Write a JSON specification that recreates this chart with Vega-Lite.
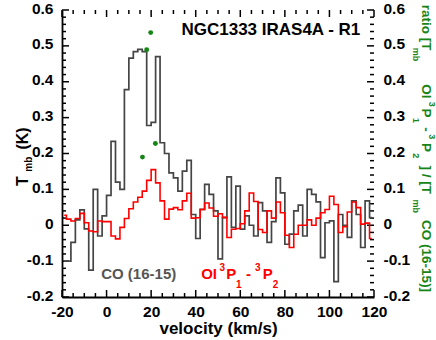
{
  "$schema": "https://vega.github.io/schema/vega-lite/v6.json",
  "width": 312,
  "height": 287,
  "autosize": {"type": "none"},
  "padding": {"left": 62, "top": 10, "right": 62, "bottom": 43},
  "background": "white",
  "config": {
    "view": {"stroke": null},
    "font": "Liberation Sans",
    "axis": {"grid": false, "title": null, "labelFont": "Liberation Sans", "labelFontWeight": "bold", "labelFontSize": 15.5, "labelColor": "black", "domainColor": "black", "domainWidth": 1.8, "labelFlush": false, "labelOverlap": false}
  },
  "datasets": {
    "spec": [
      {"velocity": -19, "co": -0.1, "oi": 0.028},
      {"velocity": -17, "co": -0.1, "oi": 0.017},
      {"velocity": -15, "co": -0.048, "oi": 0.012},
      {"velocity": -13, "co": 0.015, "oi": 0.019},
      {"velocity": -11, "co": 0.043, "oi": 0.033},
      {"velocity": -9, "co": -0.01, "oi": 0.007},
      {"velocity": -7, "co": -0.125, "oi": -0.016},
      {"velocity": -5, "co": 0.1, "oi": -0.018},
      {"velocity": -3, "co": -0.03, "oi": 0.012},
      {"velocity": -1, "co": 0.026, "oi": 0.01},
      {"velocity": 1, "co": 0.083, "oi": 0.01},
      {"velocity": 3, "co": 0.234, "oi": -0.03},
      {"velocity": 5, "co": 0.12, "oi": -0.038},
      {"velocity": 7, "co": 0.1, "oi": -0.006},
      {"velocity": 9, "co": 0.378, "oi": 0.019},
      {"velocity": 11, "co": 0.466, "oi": 0.046},
      {"velocity": 13, "co": 0.484, "oi": 0.065},
      {"velocity": 15, "co": 0.49, "oi": 0.078},
      {"velocity": 17, "co": 0.484, "oi": 0.095},
      {"velocity": 19, "co": 0.278, "oi": 0.125},
      {"velocity": 21, "co": 0.287, "oi": 0.155},
      {"velocity": 23, "co": 0.47, "oi": 0.118},
      {"velocity": 25, "co": 0.23, "oi": 0.068},
      {"velocity": 27, "co": 0.2, "oi": 0.017},
      {"velocity": 29, "co": 0.146, "oi": 0.045},
      {"velocity": 31, "co": 0.132, "oi": 0.049},
      {"velocity": 33, "co": 0.095, "oi": 0.043},
      {"velocity": 35, "co": 0.151, "oi": 0.068},
      {"velocity": 37, "co": 0.181, "oi": 0.089},
      {"velocity": 39, "co": 0.03, "oi": 0.02},
      {"velocity": 41, "co": -0.037, "oi": 0.021},
      {"velocity": 43, "co": 0.044, "oi": 0.044},
      {"velocity": 45, "co": 0.114, "oi": 0.062},
      {"velocity": 47, "co": 0.086, "oi": 0.048},
      {"velocity": 49, "co": 0.04, "oi": 0.025},
      {"velocity": 51, "co": -0.094, "oi": 0.032},
      {"velocity": 53, "co": 0.021, "oi": 0.022},
      {"velocity": 55, "co": 0.135, "oi": -0.034},
      {"velocity": 57, "co": -0.006, "oi": -0.011},
      {"velocity": 59, "co": 0.109, "oi": -0.009},
      {"velocity": 61, "co": -0.011, "oi": 0.004},
      {"velocity": 63, "co": 0.026, "oi": 0.04},
      {"velocity": 65, "co": 0.0, "oi": 0.09},
      {"velocity": 67, "co": -0.03, "oi": 0.066},
      {"velocity": 69, "co": 0.063, "oi": -0.012},
      {"velocity": 71, "co": 0.04, "oi": -0.02},
      {"velocity": 73, "co": -0.048, "oi": 0.04},
      {"velocity": 75, "co": 0.01, "oi": 0.02},
      {"velocity": 77, "co": 0.132, "oi": 0.065},
      {"velocity": 79, "co": 0.09, "oi": 0.035},
      {"velocity": 81, "co": -0.053, "oi": -0.028},
      {"velocity": 83, "co": -0.025, "oi": -0.062},
      {"velocity": 85, "co": 0.04, "oi": -0.025},
      {"velocity": 87, "co": 0.056, "oi": 0.0},
      {"velocity": 89, "co": -0.03, "oi": 0.0},
      {"velocity": 91, "co": 0.1, "oi": 0.015},
      {"velocity": 93, "co": 0.086, "oi": 0.0},
      {"velocity": 95, "co": 0.065, "oi": 0.02},
      {"velocity": 97, "co": -0.09, "oi": 0.035},
      {"velocity": 99, "co": 0.007, "oi": 0.044},
      {"velocity": 101, "co": 0.012, "oi": 0.081},
      {"velocity": 103, "co": -0.157, "oi": 0.058},
      {"velocity": 105, "co": 0.03, "oi": -0.02},
      {"velocity": 107, "co": 0.0, "oi": -0.004},
      {"velocity": 109, "co": -0.034, "oi": 0.037},
      {"velocity": 111, "co": 0.068, "oi": 0.065},
      {"velocity": 113, "co": 0.03, "oi": 0.049},
      {"velocity": 115, "co": -0.062, "oi": 0.003},
      {"velocity": 117, "co": 0.068, "oi": 0.006},
      {"velocity": 119, "co": 0.021, "oi": -0.037}
    ],
    "ratio": [
      {"velocity": 16.1, "ratio": 0.19},
      {"velocity": 18.0, "ratio": 0.489},
      {"velocity": 19.8, "ratio": 0.537},
      {"velocity": 21.9, "ratio": 0.228}
    ],
    "xmajor": [{"v": -20}, {"v": 0}, {"v": 20}, {"v": 40}, {"v": 60}, {"v": 80}, {"v": 100}, {"v": 120}],
    "xminor": [{"v": -15}, {"v": -10}, {"v": -5}, {"v": 5}, {"v": 10}, {"v": 15}, {"v": 25}, {"v": 30}, {"v": 35}, {"v": 45}, {"v": 50}, {"v": 55}, {"v": 65}, {"v": 70}, {"v": 75}, {"v": 85}, {"v": 90}, {"v": 95}, {"v": 105}, {"v": 110}, {"v": 115}],
    "ymajor": [{"t": -0.2}, {"t": -0.1}, {"t": 0}, {"t": 0.1}, {"t": 0.2}, {"t": 0.3}, {"t": 0.4}, {"t": 0.5}, {"t": 0.6}],
    "yminor": [{"t": -0.18}, {"t": -0.16}, {"t": -0.14}, {"t": -0.12}, {"t": -0.08}, {"t": -0.06}, {"t": -0.04}, {"t": -0.02}, {"t": 0.02}, {"t": 0.04}, {"t": 0.06}, {"t": 0.08}, {"t": 0.12}, {"t": 0.14}, {"t": 0.16}, {"t": 0.18}, {"t": 0.22}, {"t": 0.24}, {"t": 0.26}, {"t": 0.28}, {"t": 0.32}, {"t": 0.34}, {"t": 0.36}, {"t": 0.38}, {"t": 0.42}, {"t": 0.44}, {"t": 0.46}, {"t": 0.48}, {"t": 0.52}, {"t": 0.54}, {"t": 0.56}, {"t": 0.58}]
  },
  "layer": [
    {
      "mark": {"type": "rule", "color": "#666666", "strokeWidth": 1},
      "encoding": {"y": {"datum": 0.5, "type": "quantitative", "scale": {"domain": [-0.2, 0.6], "nice": false, "zero": false}, "axis": null}}
    },
    {
      "mark": {"type": "rule", "color": "black", "strokeWidth": 1.8},
      "encoding": {"y": {"datum": 0.6, "type": "quantitative", "scale": {"domain": [-0.2, 0.6], "nice": false, "zero": false}, "axis": null}}
    },
    {
      "mark": {"type": "rule", "color": "black", "strokeWidth": 1.8},
      "encoding": {"x": {"datum": 120, "type": "quantitative", "scale": {"domain": [-20, 120], "nice": false, "zero": false}, "axis": null}}
    },
    {
      "data": {"name": "xmajor"},
      "mark": {"type": "tick", "orient": "vertical", "color": "black", "opacity": 1, "size": 7, "thickness": 1.5, "yOffset": -3.5},
      "encoding": {
        "x": {"field": "v", "type": "quantitative", "scale": {"domain": [-20, 120], "nice": false, "zero": false}, "axis": null},
        "y": {"datum": -0.2, "type": "quantitative", "scale": {"domain": [-0.2, 0.6], "nice": false, "zero": false}, "axis": null}
      }
    },
    {
      "data": {"name": "xmajor"},
      "mark": {"type": "tick", "orient": "vertical", "color": "black", "opacity": 1, "size": 7, "thickness": 1.5, "yOffset": 3.5},
      "encoding": {
        "x": {"field": "v", "type": "quantitative", "scale": {"domain": [-20, 120], "nice": false, "zero": false}, "axis": null},
        "y": {"datum": 0.6, "type": "quantitative", "scale": {"domain": [-0.2, 0.6], "nice": false, "zero": false}, "axis": null}
      }
    },
    {
      "data": {"name": "xminor"},
      "mark": {"type": "tick", "orient": "vertical", "color": "black", "opacity": 1, "size": 4, "thickness": 1.5, "yOffset": -2},
      "encoding": {
        "x": {"field": "v", "type": "quantitative", "scale": {"domain": [-20, 120], "nice": false, "zero": false}, "axis": null},
        "y": {"datum": -0.2, "type": "quantitative", "scale": {"domain": [-0.2, 0.6], "nice": false, "zero": false}, "axis": null}
      }
    },
    {
      "data": {"name": "xminor"},
      "mark": {"type": "tick", "orient": "vertical", "color": "black", "opacity": 1, "size": 4, "thickness": 1.5, "yOffset": 2},
      "encoding": {
        "x": {"field": "v", "type": "quantitative", "scale": {"domain": [-20, 120], "nice": false, "zero": false}, "axis": null},
        "y": {"datum": 0.6, "type": "quantitative", "scale": {"domain": [-0.2, 0.6], "nice": false, "zero": false}, "axis": null}
      }
    },
    {
      "data": {"name": "ymajor"},
      "mark": {"type": "tick", "orient": "horizontal", "color": "black", "opacity": 1, "size": 7, "thickness": 1.5, "xOffset": 3.5},
      "encoding": {
        "y": {"field": "t", "type": "quantitative", "scale": {"domain": [-0.2, 0.6], "nice": false, "zero": false}, "axis": null},
        "x": {"datum": -20, "type": "quantitative", "scale": {"domain": [-20, 120], "nice": false, "zero": false}, "axis": null}
      }
    },
    {
      "data": {"name": "ymajor"},
      "mark": {"type": "tick", "orient": "horizontal", "color": "black", "opacity": 1, "size": 7, "thickness": 1.5, "xOffset": -3.5},
      "encoding": {
        "y": {"field": "t", "type": "quantitative", "scale": {"domain": [-0.2, 0.6], "nice": false, "zero": false}, "axis": null},
        "x": {"datum": 120, "type": "quantitative", "scale": {"domain": [-20, 120], "nice": false, "zero": false}, "axis": null}
      }
    },
    {
      "data": {"name": "yminor"},
      "mark": {"type": "tick", "orient": "horizontal", "color": "black", "opacity": 1, "size": 4, "thickness": 1.5, "xOffset": 2},
      "encoding": {
        "y": {"field": "t", "type": "quantitative", "scale": {"domain": [-0.2, 0.6], "nice": false, "zero": false}, "axis": null},
        "x": {"datum": -20, "type": "quantitative", "scale": {"domain": [-20, 120], "nice": false, "zero": false}, "axis": null}
      }
    },
    {
      "data": {"name": "yminor"},
      "mark": {"type": "tick", "orient": "horizontal", "color": "black", "opacity": 1, "size": 4, "thickness": 1.5, "xOffset": -2},
      "encoding": {
        "y": {"field": "t", "type": "quantitative", "scale": {"domain": [-0.2, 0.6], "nice": false, "zero": false}, "axis": null},
        "x": {"datum": 120, "type": "quantitative", "scale": {"domain": [-20, 120], "nice": false, "zero": false}, "axis": null}
      }
    },
    {
      "data": {"name": "spec"},
      "mark": {"type": "line", "interpolate": "step", "color": "#454545", "strokeWidth": 1.7},
      "encoding": {
        "x": {"field": "velocity", "type": "quantitative", "scale": {"domain": [-20, 120], "nice": false, "zero": false},
          "axis": {"orient": "bottom", "title": "velocity (km/s)", "titleFontSize": 17, "titlePadding": 1, "titleFont": "Liberation Sans", "titleFontWeight": "bold", "titleColor": "black",
            "values": [-20, 0, 20, 40, 60, 80, 100, 120], "labelExpr": "'' + datum.value",
            "domain": true, "ticks": false, "labelPadding": 7}},
        "y": {"field": "co", "type": "quantitative", "scale": {"domain": [-0.2, 0.6], "nice": false, "zero": false},
          "axis": {"orient": "left", "values": [-0.2, -0.1, 0, 0.1, 0.2, 0.3, 0.4, 0.5, 0.6], "labelExpr": "'' + datum.value",
            "domain": true, "ticks": false, "labelPadding": 9, "labelOffset": -2, "labelBaseline": "middle"}}
      }
    },
    {
      "data": {"name": "spec"},
      "mark": {"type": "line", "interpolate": "step", "color": "#ff0000", "strokeWidth": 1.6},
      "encoding": {
        "x": {"field": "velocity", "type": "quantitative", "scale": {"domain": [-20, 120], "nice": false, "zero": false}, "axis": null},
        "y": {"field": "oi", "type": "quantitative", "scale": {"domain": [-0.2, 0.6], "nice": false, "zero": false},
          "axis": {"orient": "right", "values": [-0.2, -0.1, 0, 0.1, 0.2, 0.3, 0.4, 0.5, 0.6], "labelExpr": "'' + datum.value",
            "domain": false, "ticks": false, "labelPadding": 9, "labelOffset": -2, "labelBaseline": "middle"}}
      }
    },
    {
      "mark": {"type": "rule", "color": "black", "strokeWidth": 1.5},
      "encoding": {"y": {"datum": 0, "type": "quantitative", "scale": {"domain": [-0.2, 0.6], "nice": false, "zero": false}, "axis": null}}
    },
    {
      "data": {"name": "ratio"},
      "mark": {"type": "point", "filled": true, "shape": "circle", "size": 24, "color": "#168516", "opacity": 1},
      "encoding": {
        "x": {"field": "velocity", "type": "quantitative", "scale": {"domain": [-20, 120], "nice": false, "zero": false}, "axis": null},
        "y": {"field": "ratio", "type": "quantitative", "scale": {"domain": [-0.2, 0.6], "nice": false, "zero": false}, "axis": null}
      }
    },
    {
      "data": {"values": [
        {"x": 33.6, "y": 0.544, "label": "NGC1333 IRAS4A - R1"}
      ]},
      "mark": {"type": "text", "align": "left", "baseline": "middle", "fontSize": 17, "fontWeight": "bold", "color": "black"},
      "encoding": {
        "x": {"field": "x", "type": "quantitative", "scale": {"domain": [-20, 120], "nice": false, "zero": false}, "axis": null},
        "y": {"field": "y", "type": "quantitative", "scale": {"domain": [-0.2, 0.6], "nice": false, "zero": false}, "axis": null},
        "text": {"field": "label"}
      }
    },
    {
      "data": {"values": [
        {"x": -2.41, "y": -0.137, "label": "CO (16-15)"}
      ]},
      "mark": {"type": "text", "align": "left", "baseline": "middle", "fontSize": 15, "fontWeight": "bold", "color": "#555555"},
      "encoding": {
        "x": {"field": "x", "type": "quantitative", "scale": {"domain": [-20, 120], "nice": false, "zero": false}, "axis": null},
        "y": {"field": "y", "type": "quantitative", "scale": {"domain": [-0.2, 0.6], "nice": false, "zero": false}, "axis": null},
        "text": {"field": "label"}
      }
    },
    {
      "data": {"values": [
        {"x": 42.45, "y": -0.137, "label": "OI"},
        {"x": 53.67, "y": -0.137, "label": "P"},
        {"x": 62.6, "y": -0.137, "label": "-"},
        {"x": 70.08, "y": -0.137, "label": "P"}
      ]},
      "mark": {"type": "text", "align": "left", "baseline": "middle", "fontSize": 15, "fontWeight": "bold", "color": "#ff0000"},
      "encoding": {
        "x": {"field": "x", "type": "quantitative", "scale": {"domain": [-20, 120], "nice": false, "zero": false}, "axis": null},
        "y": {"field": "y", "type": "quantitative", "scale": {"domain": [-0.2, 0.6], "nice": false, "zero": false}, "axis": null},
        "text": {"field": "label"}
      }
    },
    {
      "data": {"values": [
        {"x": 51.87, "y": -0.118, "label": "3"},
        {"x": 59.32, "y": -0.167, "label": "1"},
        {"x": 67.84, "y": -0.118, "label": "3"},
        {"x": 75.78, "y": -0.167, "label": "2"}
      ]},
      "mark": {"type": "text", "align": "center", "baseline": "middle", "fontSize": 10, "fontWeight": "bold", "color": "#ff0000"},
      "encoding": {
        "x": {"field": "x", "type": "quantitative", "scale": {"domain": [-20, 120], "nice": false, "zero": false}, "axis": null},
        "y": {"field": "y", "type": "quantitative", "scale": {"domain": [-0.2, 0.6], "nice": false, "zero": false}, "axis": null},
        "text": {"field": "label"}
      }
    },
    {
      "data": {"values": [
        {"x": -37.72, "y": 0.123, "label": "T"},
        {"x": -37.72, "y": 0.242, "label": "(K)"}
      ]},
      "mark": {"type": "text", "align": "center", "baseline": "middle", "angle": 270, "fontSize": 16, "fontWeight": "bold", "color": "black"},
      "encoding": {
        "x": {"field": "x", "type": "quantitative", "scale": {"domain": [-20, 120], "nice": false, "zero": false}, "axis": null},
        "y": {"field": "y", "type": "quantitative", "scale": {"domain": [-0.2, 0.6], "nice": false, "zero": false}, "axis": null},
        "text": {"field": "label"}
      }
    },
    {
      "data": {"values": [
        {"x": -34.8, "y": 0.17, "label": "mb"}
      ]},
      "mark": {"type": "text", "align": "center", "baseline": "middle", "angle": 270, "fontSize": 10, "fontWeight": "bold", "color": "black"},
      "encoding": {
        "x": {"field": "x", "type": "quantitative", "scale": {"domain": [-20, 120], "nice": false, "zero": false}, "axis": null},
        "y": {"field": "y", "type": "quantitative", "scale": {"domain": [-0.2, 0.6], "nice": false, "zero": false}, "axis": null},
        "text": {"field": "label"}
      }
    },
    {
      "data": {"values": [
        {"x": 143.3, "y": 0.551, "label": "ratio [T"},
        {"x": 143.3, "y": 0.373, "label": "OI"},
        {"x": 143.3, "y": 0.313, "label": "P"},
        {"x": 143.3, "y": 0.267, "label": "-"},
        {"x": 143.3, "y": 0.217, "label": "P"},
        {"x": 143.3, "y": 0.127, "label": "] / [T"},
        {"x": 143.3, "y": -0.086, "label": "CO (16-15)]"}
      ]},
      "mark": {"type": "text", "align": "center", "baseline": "middle", "angle": 90, "fontSize": 13.5, "fontWeight": "bold", "color": "#168516"},
      "encoding": {
        "x": {"field": "x", "type": "quantitative", "scale": {"domain": [-20, 120], "nice": false, "zero": false}, "axis": null},
        "y": {"field": "y", "type": "quantitative", "scale": {"domain": [-0.2, 0.6], "nice": false, "zero": false}, "axis": null},
        "text": {"field": "label"}
      }
    },
    {
      "data": {"values": [
        {"x": 138.8, "y": 0.476, "label": "mb"},
        {"x": 145.9, "y": 0.337, "label": "3"},
        {"x": 138.8, "y": 0.292, "label": "1"},
        {"x": 145.9, "y": 0.247, "label": "3"},
        {"x": 138.8, "y": 0.194, "label": "2"},
        {"x": 138.8, "y": 0.053, "label": "mb"}
      ]},
      "mark": {"type": "text", "align": "center", "baseline": "middle", "angle": 90, "fontSize": 9, "fontWeight": "bold", "color": "#168516"},
      "encoding": {
        "x": {"field": "x", "type": "quantitative", "scale": {"domain": [-20, 120], "nice": false, "zero": false}, "axis": null},
        "y": {"field": "y", "type": "quantitative", "scale": {"domain": [-0.2, 0.6], "nice": false, "zero": false}, "axis": null},
        "text": {"field": "label"}
      }
    }
  ],
  "resolve": {"axis": {"x": "independent", "y": "independent"}}
}
